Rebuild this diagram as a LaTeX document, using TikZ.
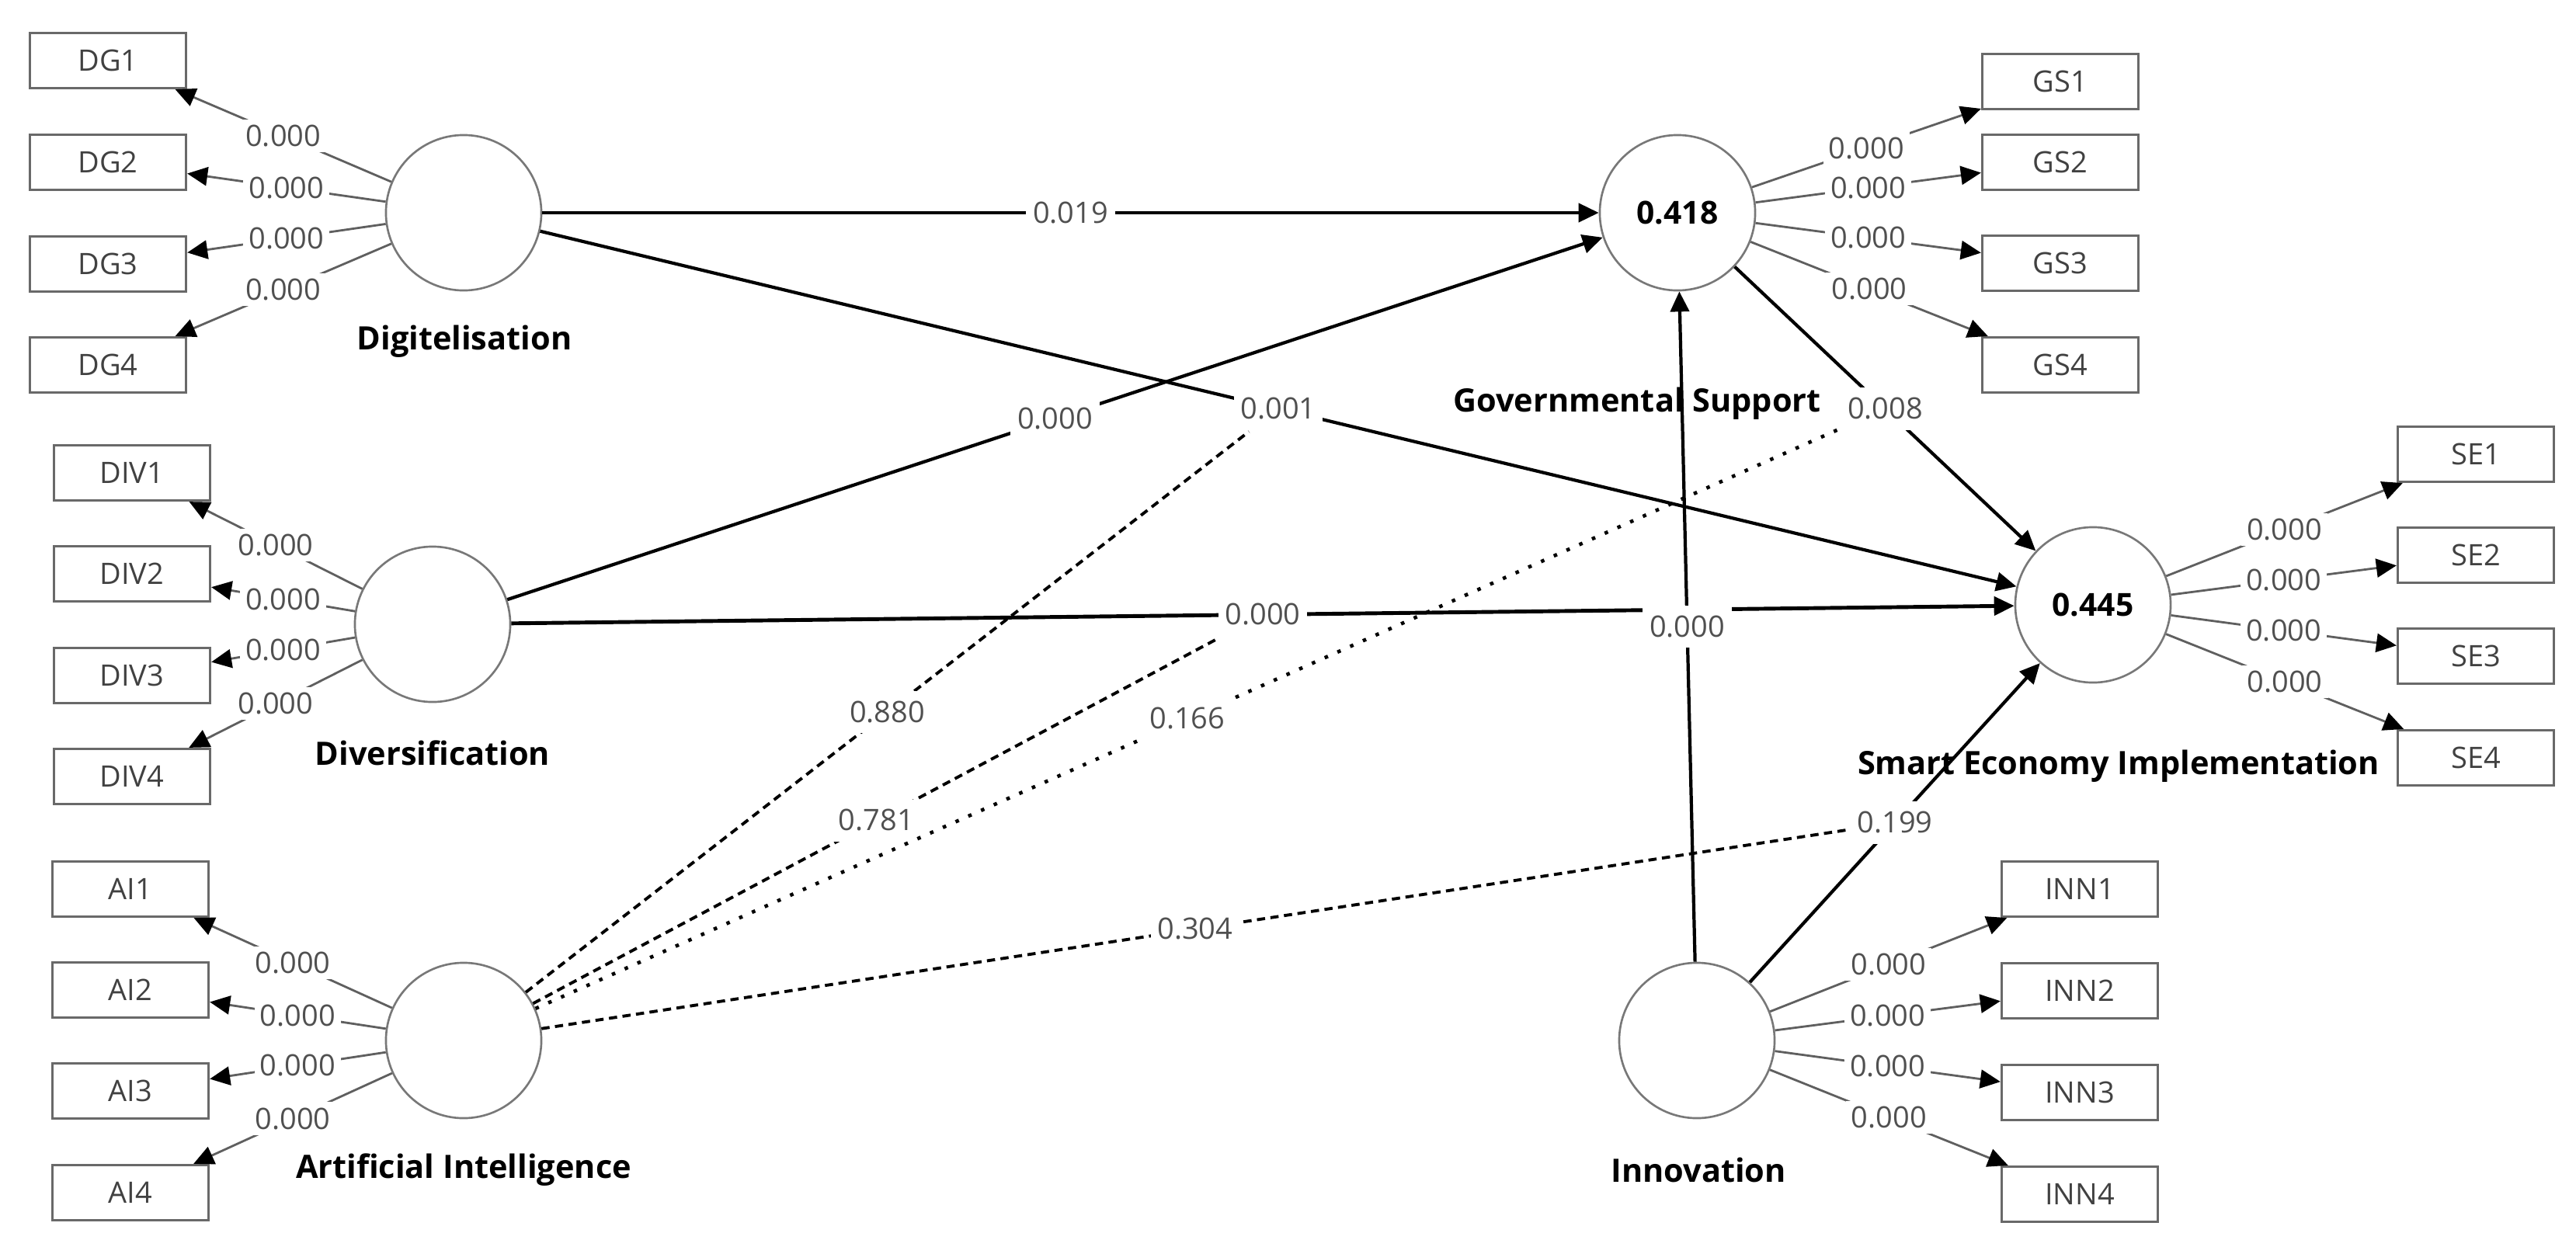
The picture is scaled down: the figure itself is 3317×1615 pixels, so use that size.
\documentclass[tikz,border=0pt]{standalone}
\usepackage{fontspec}
\setmainfont{Open Sans}
\usetikzlibrary{arrows.meta}
\definecolor{boxc}{RGB}{105,105,105}
\definecolor{circc}{RGB}{120,120,120}
\definecolor{indc}{RGB}{95,95,95}
\definecolor{numc}{RGB}{80,80,80}
\definecolor{boxtxt}{RGB}{65,65,65}
\tikzset{
  latent/.style={circle, draw=circc, line width=0.75pt, fill=white, minimum size=2cm, inner sep=0pt, font=\fontsize{11.6}{13}\selectfont\bfseries},
  indbox/.style={rectangle, draw=boxc, line width=0.9pt, fill=white, minimum width=2.01cm, minimum height=0.71cm, inner sep=0pt, text=boxtxt, font=\fontsize{10.8}{13}\selectfont},
  latlabel/.style={font=\fontsize{11.8}{13}\selectfont\bfseries, inner sep=0pt},
  ind/.style={draw=indc, line width=0.8pt, -{Triangle[length=0.26cm,width=0.24cm,color=black,fill=black]}},
  ilbl/.style={fill=white, inner sep=2pt, text=numc, font=\fontsize{10.8}{13}\selectfont},
  num/.style={fill=white, inner xsep=2.5pt, inner ysep=0.5pt, text height=11pt, text depth=3.5pt, text=numc, font=\fontsize{10.8}{13}\selectfont},
  spath/.style={draw=black, line width=1.2pt, -{Triangle[length=0.26cm,width=0.24cm]}},
  moddash/.style={draw=black, line width=1.1pt, dash pattern=on 3pt off 2pt},
  moddot/.style={draw=black, line width=1.3pt, dash pattern=on 1.3pt off 3.8pt},
}
\begin{document}
\begin{tikzpicture}[x=0.01cm, y=-0.01cm]
\useasboundingbox (0,0) rectangle (3317,1615);

% latent variable names (drawn first, lines may cross them)
\node[latlabel] (tDG)  at (598,440)  {Digitelisation};
\node[latlabel] (tDIV) at (557,970)  {Diversification};
\node[latlabel] (tAI)  at (597,1507) {Artificial Intelligence};
\node[latlabel] (tGS)  at (2108,520) {Governmental Support};
\node[latlabel] (tSE)  at (2728,987) {Smart Economy Implementation};
\node[latlabel] (tINN) at (2187,1507) {Innovation};

% latent variables
\node[latent] (DG)  at (597,274)  {};
\node[latent] (DIV) at (557,804)  {};
\node[latent] (AI)  at (597,1340) {};
\node[latent] (GS)  at (2160,274) {0.418};
\node[latent] (SE)  at (2695,779) {0.445};
\node[latent] (INN) at (2185,1340) {};

% indicators
\foreach \n/\y in {1/78,2/209,3/340,4/470} \node[indbox] (DG\n) at (139,\y) {DG\n};
\foreach \n/\y in {1/609,2/739,3/870,4/1000} \node[indbox] (DIV\n) at (170,\y) {DIV\n};
\foreach \n/\y in {1/1145,2/1275,3/1405,4/1536} \node[indbox] (AI\n) at (168,\y) {AI\n};
\foreach \n/\y in {1/105,2/209,3/339,4/470} \node[indbox] (GS\n) at (2653,\y) {GS\n};
\foreach \n/\y in {1/585,2/715,3/845,4/976} \node[indbox] (SE\n) at (3188,\y) {SE\n};
\foreach \n/\y in {1/1145,2/1276,3/1407,4/1538} \node[indbox] (INN\n) at (2678,\y) {INN\n};

% outer loadings
\foreach \lv in {DG,DIV,AI,GS,SE,INN}{
  \foreach \n in {1,2,3,4}{
    \draw[ind] (\lv) -- node[ilbl]{0.000} (\lv\n);
  }
}

% structural paths
\draw[spath] (DG) -- node[num] (lDGGS) {0.019} (GS);
\draw[spath] (DG) -- node[num] (lDGSE) {0.001} (SE);
\draw[spath] (DIV) -- node[num] (lDIVGS) {0.000} (GS);
\draw[spath, line width=1.4pt] (DIV) -- node[num] (lDIVSE) {0.000} (SE);
\draw[spath] (GS) -- node[num] (lGSSE) {0.008} (SE);
\draw[spath] (INN) -- node[num] (lINNSE) {0.199} (SE);
\draw[spath] (INN) -- node[num] (lINNGS) {0.000} (GS);

% moderating effects of Artificial Intelligence
\draw[moddash] (AI) -- node[num] {0.880} (lDGSE);
\draw[moddash] (AI) -- node[num] {0.781} (lDIVSE);
\draw[moddot]  (AI) -- node[num] {0.166} (lGSSE);
\draw[moddash] (AI) -- node[num] {0.304} (lINNSE);
\end{tikzpicture}
\end{document}
